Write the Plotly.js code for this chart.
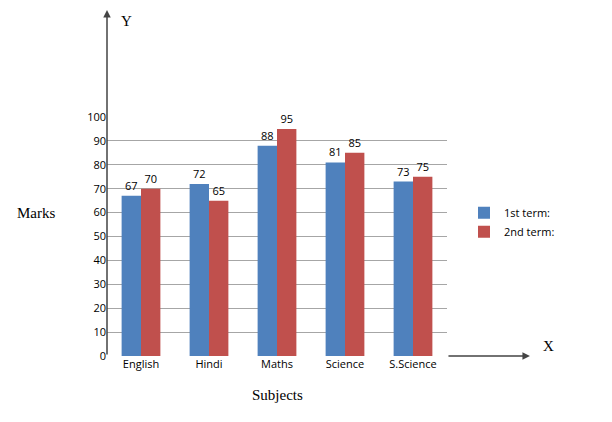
<!DOCTYPE html>
<html><head><script src="https://cdn.plot.ly/plotly-3.0.1.min.js"></script></head>
<body style="margin:0"><div id="chart" style="width:612px;height:422px"></div>
<script>
var subjects = ['English', 'Hindi', 'Maths', 'Science', 'S.Science'];
var term1 = [67, 72, 88, 81, 73];
var term2 = [70, 65, 95, 85, 75];

var data = [
  {x: subjects, y: term1, name: '1st term:', type: 'bar', marker: {color: '#4F81BD'},
   text: term1.map(String), textposition: 'outside', cliponaxis: false,
   textfont: {size: 11, color: '#000'}},
  {x: subjects, y: term2, name: '2nd term:', type: 'bar', marker: {color: '#C0504D'},
   text: term2.map(String), textposition: 'outside', cliponaxis: false,
   textfont: {size: 11, color: '#000'}}
];

var layout = {
  width: 612, height: 422,
  margin: {l: 107, r: 165, t: 117, b: 66},
  font: {family: 'Open Sans, Liberation Sans, sans-serif', size: 11, color: '#000'},
  bargap: 0.43, bargroupgap: 0,
  showlegend: true,
  legend: {x: 1.05, y: 0.56, xanchor: 'left', yanchor: 'middle', font: {size: 11}, tracegroupgap: 8},
  xaxis: {showline: false, ticks: '', tickfont: {size: 11}},
  yaxis: {range: [0, 100], dtick: 10, gridcolor: '#a6a6a6', showline: false, ticks: '', zeroline: false, tickfont: {size: 11}},
  plot_bgcolor: '#fff', paper_bgcolor: '#fff',
  annotations: [
    {xref: 'paper', yref: 'paper', x: 0, y: 1.448, ax: 0, ay: 346, showarrow: true, arrowhead: 2, arrowsize: 1, arrowwidth: 1.5, text: ''},
    {xref: 'paper', yref: 'paper', x: 1.244, y: 0, ax: -83, ay: 0, showarrow: true, arrowhead: 2, arrowsize: 1, arrowwidth: 1.5, text: ''},
    {xref: 'paper', yref: 'paper', x: 0.035, y: 1.445, text: 'Y', showarrow: false, xanchor: 'left', font: {family: 'Liberation Serif, serif', size: 15}},
    {xref: 'paper', yref: 'paper', x: 1.275, y: 0, text: 'X', showarrow: false, xanchor: 'left', font: {family: 'Liberation Serif, serif', size: 15}},
    {xref: 'paper', yref: 'paper', x: -0.21, y: 0.6, text: 'Marks', showarrow: false, xanchor: 'center', font: {family: 'Liberation Serif, serif', size: 15}},
    {xref: 'paper', yref: 'paper', x: 0.5, y: -0.205, text: 'Subjects', showarrow: false, xanchor: 'center', font: {family: 'Liberation Serif, serif', size: 15}}
  ]
};

Plotly.newPlot('chart', data, layout, {displayModeBar: false});
</script></body></html>
